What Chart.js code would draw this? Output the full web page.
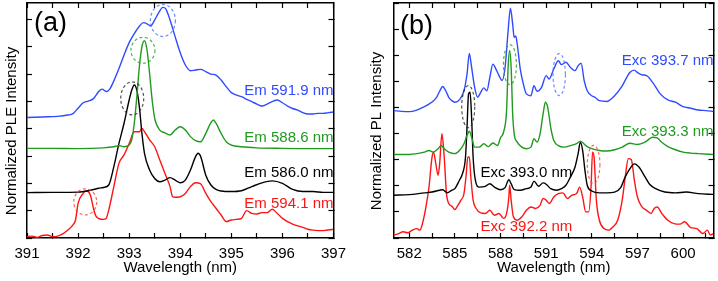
<!DOCTYPE html>
<html>
<head>
<meta charset="utf-8">
<script src="https://cdn.jsdelivr.net/npm/chart.js@4.4.0/dist/chart.umd.min.js"></script>
<style>
  html, body { margin: 0; padding: 0; background: #fff; }
  .wrap { position: relative; width: 718px; height: 281px; overflow: hidden; }
  #ple { position: absolute; left: 0; top: 0; }
  #pl { position: absolute; left: 358px; top: 0; }
</style>
</head>
<body>
<div class="wrap">
  <canvas id="ple" width="358" height="281"></canvas>
  <canvas id="pl" width="360" height="281"></canvas>
</div>
<script>
// ---- panel (a): PLE spectra, [wavelength nm, normalized intensity + offset]
const emBlue = [[391,3.41],[391.3,3.43],[391.6,3.45],[391.8,3.5],[391.9,3.55],[392,3.75],[392.1,3.95],[392.2,4.01],[392.3,4.1],[392.4,4.35],[392.47,4.45],[392.55,4.36],[392.62,4.45],[392.7,4.75],[392.8,5.2],[392.9,5.7],[393,6.15],[393.1,6.48],[393.2,6.75],[393.28,6.88],[393.35,6.84],[393.42,6.76],[393.5,6.98],[393.58,7.25],[393.66,7.44],[393.72,7.38],[393.8,6.98],[393.9,6.37],[394,5.78],[394.1,5.33],[394.2,5.12],[394.3,5.15],[394.4,5.17],[394.5,5.09],[394.6,5.0],[394.7,4.96],[394.8,4.78],[394.9,4.54],[395,4.32],[395.1,4.23],[395.2,4.17],[395.3,4.07],[395.4,3.99],[395.5,3.9],[395.6,3.83],[395.7,3.9],[395.8,3.99],[395.9,4.05],[396,3.95],[396.1,3.83],[396.2,3.74],[396.3,3.68],[396.4,3.59],[396.5,3.54],[396.6,3.54],[396.7,3.56],[396.8,3.56],[396.9,3.59],[397,3.61]];
const emGreen = [[391,2.28],[391.5,2.28],[392,2.27],[392.5,2.3],[392.7,2.34],[392.8,2.38],[392.9,2.34],[393,2.4],[393.05,2.59],[393.1,3.2],[393.15,4.17],[393.2,5.27],[393.25,6.0],[393.3,6.22],[393.35,5.88],[393.4,5.02],[393.45,4.05],[393.5,3.38],[393.6,2.95],[393.7,2.85],[393.8,2.77],[393.9,2.95],[394,3.07],[394.1,2.95],[394.2,2.71],[394.3,2.56],[394.4,2.52],[394.5,2.83],[394.6,3.22],[394.65,3.32],[394.7,3.2],[394.8,2.83],[394.9,2.52],[395,2.4],[395.2,2.34],[395.5,2.3],[396,2.28],[396.5,2.27],[397,2.27]];
const emBlack = [[391,0.66],[391.5,0.67],[392,0.68],[392.2,0.73],[392.4,0.82],[392.5,0.85],[392.6,0.94],[392.7,1.61],[392.8,2.46],[392.9,3.2],[393,4.05],[393.05,4.41],[393.1,4.6],[393.15,4.41],[393.2,3.8],[393.25,2.83],[393.3,2.1],[393.4,1.49],[393.5,1.18],[393.6,1.06],[393.7,1.12],[393.8,1.21],[393.9,1.12],[394,1.02],[394.1,1.12],[394.2,1.49],[394.3,1.98],[394.35,2.1],[394.4,1.98],[394.5,1.3],[394.6,0.94],[394.7,0.78],[394.8,0.72],[395,0.7],[395.2,0.73],[395.4,0.88],[395.6,1.02],[395.8,1.09],[396,1.0],[396.2,0.78],[396.4,0.7],[396.6,0.7],[396.8,0.67],[397,0.67]];
const emRed = [[391,-0.95],[391.1,-0.93],[391.2,-0.98],[391.3,-0.91],[391.4,-0.89],[391.5,-0.95],[391.6,-0.93],[391.7,-0.85],[391.8,-0.71],[391.9,-0.52],[391.95,-0.34],[392,0.27],[392.1,0.63],[392.15,0.72],[392.2,0.7],[392.25,0.51],[392.3,0.09],[392.35,-0.2],[392.4,-0.28],[392.5,-0.32],[392.55,-0.28],[392.6,0.02],[392.7,0.88],[392.8,1.73],[392.9,2.04],[393,2.46],[393.1,2.89],[393.2,2.89],[393.25,3.01],[393.3,2.89],[393.4,2.59],[393.5,2.34],[393.6,1.85],[393.7,1.37],[393.8,0.88],[393.85,0.51],[393.9,0.49],[394,0.51],[394.1,0.63],[394.2,0.88],[394.3,1.02],[394.4,0.98],[394.5,0.63],[394.6,0.33],[394.7,0.09],[394.8,-0.16],[394.9,-0.4],[395,-0.34],[395.1,-0.32],[395.2,-0.28],[395.3,0.0],[395.4,-0.1],[395.5,-0.12],[395.6,-0.07],[395.7,-0.07],[395.8,0.05],[395.9,-0.1],[396,-0.28],[396.2,-0.49],[396.4,-0.61],[396.5,-0.68],[396.6,-0.71],[396.8,-0.73],[397,-0.68]];

// ---- panel (b): PL spectra
const excBlue = [[581,3.88],[581.5,3.85],[582,3.84],[582.5,3.9],[583,4.03],[583.3,4.13],[583.6,4.26],[583.8,4.39],[584,4.62],[584.2,4.8],[584.4,4.64],[584.6,4.39],[584.8,4.26],[585,4.2],[585.3,4.29],[585.6,4.64],[585.8,5.28],[585.95,6.07],[586.1,5.54],[586.3,4.77],[586.5,4.39],[586.7,4.58],[586.9,4.75],[587.1,4.64],[587.3,5.15],[587.5,5.66],[587.7,5.47],[587.9,5.22],[588.1,5.03],[588.3,5.53],[588.5,6.93],[588.65,7.8],[588.8,7.19],[588.9,6.68],[589,6.74],[589.1,6.42],[589.3,5.47],[589.5,4.9],[589.7,4.52],[590,4.45],[590.2,4.83],[590.4,4.62],[590.7,4.77],[591,5.22],[591.2,5.09],[591.5,5.47],[591.8,5.79],[592,5.64],[592.3,5.73],[592.6,5.53],[592.9,5.41],[593.1,5.6],[593.3,5.69],[593.5,5.03],[593.7,4.64],[594,4.45],[594.2,4.39],[594.5,4.26],[595,4.23],[595.5,4.45],[596,4.83],[596.5,5.34],[596.8,5.43],[597,5.34],[597.3,5.25],[597.6,5.22],[598,4.96],[598.5,4.52],[599,4.29],[599.5,4.2],[600,4.03],[600.5,3.97],[601,3.9],[601.5,3.88],[602,3.85]];
const excGreen = [[581,2.2],[582,2.2],[582.5,2.23],[583,2.29],[583.3,2.35],[583.6,2.29],[583.9,2.42],[584.1,2.54],[584.3,2.42],[584.6,2.29],[585,2.23],[585.3,2.35],[585.6,2.61],[585.8,2.93],[585.95,3.09],[586.1,2.86],[586.3,2.48],[586.6,2.48],[586.9,2.61],[587.2,2.5],[587.5,2.64],[587.8,2.54],[588,2.84],[588.2,3.05],[588.4,3.88],[588.5,5.53],[588.6,6.17],[588.7,5.53],[588.8,3.75],[588.9,2.99],[589.1,2.67],[589.4,2.48],[589.7,2.42],[590,2.48],[590.2,2.8],[590.4,2.67],[590.6,2.99],[590.8,3.75],[590.95,4.2],[591.1,4.01],[591.3,3.24],[591.5,2.74],[591.8,2.54],[592.2,2.48],[592.6,2.54],[593,2.61],[593.25,2.71],[593.6,2.54],[594,2.42],[594.5,2.35],[595,2.33],[595.5,2.38],[596,2.48],[596.5,2.63],[597,2.58],[597.5,2.67],[598,2.86],[598.3,2.83],[598.6,2.67],[599,2.5],[599.5,2.38],[600,2.29],[600.5,2.25],[601,2.23],[602,2.2]];
const excBlack = [[581,0.64],[582,0.66],[583,0.73],[583.5,0.76],[584,0.83],[584.2,0.85],[584.5,0.73],[584.8,0.83],[585,0.89],[585.3,1.21],[585.5,1.46],[585.7,2.1],[585.8,3.24],[585.9,4.52],[586,4.58],[586.1,3.63],[586.2,2.1],[586.35,1.21],[586.6,0.95],[587,0.98],[587.3,1.08],[587.6,0.95],[588,0.85],[588.3,0.93],[588.55,1.23],[588.7,1.08],[588.9,0.85],[589.3,0.83],[589.7,0.89],[590,0.95],[590.2,1.18],[590.5,0.98],[590.8,1.11],[591,1.06],[591.3,0.89],[591.7,0.83],[592,0.89],[592.3,1.02],[592.6,1.34],[592.9,1.72],[593.1,2.23],[593.25,2.67],[593.4,2.35],[593.55,1.59],[593.7,1.02],[594,0.8],[594.5,0.73],[595,0.73],[595.5,0.76],[595.9,0.93],[596.2,1.34],[596.5,1.65],[596.8,1.84],[597.1,1.72],[597.5,1.34],[597.8,1.06],[598.2,0.89],[598.8,0.76],[599.5,0.73],[600.2,0.76],[601,0.7],[602,0.67]];
const excRed = [[581,-0.89],[581.3,-0.83],[581.6,-0.76],[581.9,-0.8],[582.2,-0.7],[582.5,-0.64],[582.7,-0.7],[582.9,-0.38],[583.1,0.19],[583.3,0.95],[583.5,2.1],[583.6,2.29],[583.75,1.84],[583.9,1.4],[584,1.84],[584.15,2.99],[584.3,2.1],[584.45,0.7],[584.6,0.32],[584.8,0.22],[585,0.09],[585.2,0.25],[585.4,0.45],[585.6,0.7],[585.75,1.46],[585.85,2.1],[585.95,2.1],[586.05,1.34],[586.2,0.45],[586.4,0.13],[586.7,-0.04],[587,-0.06],[587.3,0.06],[587.6,-0.13],[587.9,-0.06],[588.2,-0.25],[588.4,-0.06],[588.55,0.57],[588.6,1.02],[588.7,0.45],[588.85,-0.19],[589.1,-0.32],[589.4,-0.19],[589.7,0.06],[590,0.19],[590.3,0.13],[590.6,0.25],[590.8,0.51],[591,0.45],[591.2,0.32],[591.5,0.57],[591.8,0.7],[592.1,0.73],[592.4,0.51],[592.7,0.64],[593,0.7],[593.2,0.95],[593.4,0.57],[593.6,0.0],[593.8,0.0],[593.95,0.95],[594.05,2.29],[594.15,2.1],[594.3,0.45],[594.5,-0.32],[594.8,-0.64],[595.1,-0.7],[595.4,-0.57],[595.7,-0.32],[596,0.45],[596.2,1.34],[596.4,2.04],[596.6,2.0],[596.8,1.21],[597,0.57],[597.3,0.19],[597.6,0.06],[597.9,-0.06],[598.1,0.13],[598.3,0.19],[598.6,-0.06],[599,-0.32],[599.4,-0.45],[599.8,-0.47],[600.1,-0.38],[600.5,-0.6],[600.9,-0.64],[601.3,-0.83],[601.6,-0.7],[601.8,-0.89],[602,-0.83]];

// axis ticks
const pleTicks = [391, 391.5, 392, 392.5, 393, 393.5, 394, 394.5, 395, 395.5, 396, 396.5, 397];
const pleTickLabels = [391, 392, 393, 394, 395, 396, 397];
const plTicks = [582, 583.5, 585, 586.5, 588, 589.5, 591, 592.5, 594, 595.5, 597, 598.5, 600, 601.5];
const plTickLabels = [582, 585, 588, 591, 594, 597, 600];
const intensityTicks = [-1, 0, 1, 2, 3, 4, 5, 6, 7, 8];

const FONT = 'Arial, "Liberation Sans", sans-serif';
const C = { blue: '#2f4bff', green: '#1f9a1f', black: '#000000', red: '#ff1414' };
const RING = { blue: 'rgba(70,110,255,0.8)', green: 'rgba(40,160,40,0.8)', black: 'rgba(40,40,40,0.8)', red: 'rgba(255,60,60,0.8)' };

function series(pairs, color) {
  return {
    data: pairs.map(([x, y]) => ({ x, y })),
    borderColor: color,
    borderWidth: 1.4,
    pointRadius: 0,
    cubicInterpolationMode: 'monotone',
    fill: false
  };
}

// text, dashed rings, panel tag drawn on top of the plot
function decor(cfg) {
  return {
    id: 'decor',
    afterDatasetsDraw(chart) {
      const { ctx, chartArea, scales: { x, y } } = chart;
      ctx.save();
      ctx.lineWidth = 1.2;
      ctx.setLineDash([3, 2.5]);
      cfg.rings.forEach(r => {
        ctx.strokeStyle = r.color;
        ctx.beginPath();
        ctx.ellipse(x.getPixelForValue(r.x), y.getPixelForValue(r.y), r.rx, r.ry, 0, 0, Math.PI * 2);
        ctx.stroke();
      });
      ctx.setLineDash([]);

      ctx.font = `15px ${FONT}`;
      ctx.textBaseline = 'middle';
      cfg.labels.forEach(l => {
        ctx.fillStyle = l.color;
        ctx.textAlign = l.align;
        ctx.fillText(l.text, x.getPixelForValue(l.x), y.getPixelForValue(l.y));
      });

      ctx.fillStyle = '#000';
      ctx.textAlign = 'left';
      ctx.font = `27px ${FONT}`;
      ctx.fillText(cfg.tag, chartArea.left + cfg.tagDx, cfg.tagY);

      ctx.font = `15px ${FONT}`;
      ctx.textAlign = 'center';
      ctx.translate(cfg.yTitleX, 131);
      ctx.rotate(-Math.PI / 2);
      ctx.fillText(cfg.yTitle, 0, 0);
      ctx.restore();
    }
  };
}

function scalesFor(p) {
  const grid = { drawOnChartArea: false, tickLength: -5, tickColor: '#000', tickWidth: 1.2 };
  const border = { color: '#000', width: 1.5 };
  const xTicks = s => { s.ticks = p.xTicks.map(v => ({ value: v })); };
  const yTicks = s => { s.ticks = intensityTicks.map(v => ({ value: v })); };
  return {
    x: {
      type: 'linear', position: 'bottom', min: p.xMin, max: p.xMax,
      afterBuildTicks: xTicks,
      afterFit: s => { s.height = 43; },
      ticks: {
        font: { family: FONT, size: 15 }, color: '#000', padding: 12,
        maxRotation: 0, autoSkip: false,
        callback: v => p.xLabels.includes(v) ? String(v) : ''
      },
      grid, border,
      title: { display: true, text: 'Wavelength (nm)', color: '#000', font: { family: FONT, size: 15 }, padding: { top: 0, bottom: 4 } }
    },
    xTop: {
      type: 'linear', position: 'top', min: p.xMin, max: p.xMax,
      afterBuildTicks: xTicks,
      afterFit: s => { s.height = 3; },
      ticks: { display: false }, grid, border
    },
    y: {
      type: 'linear', position: 'left', min: -1, max: p.yMax,
      afterBuildTicks: yTicks,
      afterFit: s => { s.width = p.left; },
      ticks: { display: false }, grid, border
    },
    yRight: {
      type: 'linear', position: 'right', min: -1, max: p.yMax,
      afterBuildTicks: yTicks,
      afterFit: s => { s.width = p.right; },
      ticks: { display: false }, grid, border
    }
  };
}

function makeChart(id, datasets, p, d) {
  return new Chart(document.getElementById(id), {
    type: 'line',
    data: { datasets },
    options: {
      responsive: false,
      animation: false,
      devicePixelRatio: 1,
      layout: { padding: 0 },
      plugins: { legend: { display: false }, tooltip: { enabled: false } },
      scales: scalesFor(p)
    },
    plugins: [decor(d)]
  });
}

makeChart('ple', [
  series(emBlue, C.blue), series(emGreen, C.green), series(emBlack, C.black), series(emRed, C.red)
], { xMin: 391, xMax: 397, yMax: 7.6, xTicks: pleTicks, xLabels: pleTickLabels, left: 27, right: 11 }, {
  tag: '(a)', tagDx: 7, tagY: 24,
  yTitle: 'Normalized PLE Intensity', yTitleX: 12,
  rings: [
    { x: 393.66, y: 6.96, rx: 12.5, ry: 16, color: RING.blue },
    { x: 393.27, y: 5.87, rx: 12, ry: 13, color: RING.green },
    { x: 393.06, y: 4.11, rx: 11.5, ry: 16.5, color: RING.black },
    { x: 392.14, y: 0.32, rx: 11.5, ry: 13, color: RING.red }
  ],
  labels: [
    { text: 'Em 591.9 nm', x: 397, y: 4.37, align: 'right', color: C.blue },
    { text: 'Em 588.6 nm', x: 397, y: 2.65, align: 'right', color: C.green },
    { text: 'Em 586.0 nm', x: 397, y: 1.38, align: 'right', color: C.black },
    { text: 'Em 594.1 nm', x: 397, y: 0.24, align: 'right', color: C.red }
  ]
});

makeChart('pl', [
  series(excBlue, C.blue), series(excGreen, C.green), series(excBlack, C.black), series(excRed, C.red)
], { xMin: 581, xMax: 602, yMax: 8, xTicks: plTicks, xLabels: plTickLabels, left: 36, right: 3 }, {
  tag: '(b)', tagDx: 6, tagY: 27,
  yTitle: 'Normalized PL Intensity', yTitleX: 19,
  rings: [
    { x: 585.88, y: 4.03, rx: 6.5, ry: 21, color: RING.black },
    { x: 588.62, y: 5.64, rx: 6.5, ry: 20, color: RING.green },
    { x: 591.86, y: 5.26, rx: 6.2, ry: 21, color: RING.blue },
    { x: 594.12, y: 1.82, rx: 6.3, ry: 19, color: RING.red }
  ],
  labels: [
    { text: 'Exc 393.7 nm', x: 602, y: 5.79, align: 'right', color: C.blue },
    { text: 'Exc 393.3 nm', x: 602, y: 3.08, align: 'right', color: C.green },
    { text: 'Exc 393.0 nm', x: 586.69, y: 1.48, align: 'left', color: C.black },
    { text: 'Exc 392.2 nm', x: 586.69, y: -0.58, align: 'left', color: C.red }
  ]
});
</script>
</body>
</html>
